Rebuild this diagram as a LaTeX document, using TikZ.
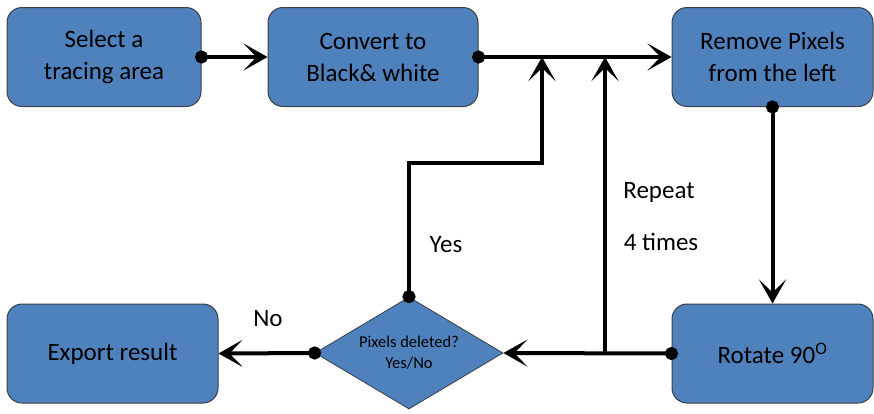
\documentclass[tikz,border=0pt]{standalone}
\usepackage{fontspec}
\setmainfont{Carlito}
\usetikzlibrary{arrows.meta,shapes.geometric}

\definecolor{boxblue}{HTML}{4F81BD}
\definecolor{boxedge}{HTML}{3A3F47}

\tikzset{
  procbox/.style={draw=boxedge, line width=1pt, fill=boxblue, rounded corners=15pt,
    minimum height=99pt, inner sep=0pt, align=center,
    font=\fontsize{25}{32}\selectfont},
  decbox/.style={draw=boxedge, line width=0.8pt, fill=boxblue, diamond,
    shape aspect=1.68, minimum width=188pt, minimum height=112pt, inner sep=0pt,
    align=center, font=\fontsize{16.5}{21}\selectfont},
  flow/.style={line width=4pt,
    -{Stealth[length=24pt,width=27pt,inset=13pt]}},
  dotflow/.style={flow, {Circle[length=13pt]}-{Stealth[length=24pt,width=27pt,inset=13pt]},
    shorten <=-6.5pt},
  lbl/.style={font=\fontsize{25}{30}\selectfont, inner sep=0pt}
}

\begin{document}
\begin{tikzpicture}[x=1pt, y=-1pt]
  \useasboundingbox (0,0) rectangle (874,413);

  % process steps
  \node[procbox, minimum width=194pt] (sel) at (104,57) {Select a\\tracing area};
  \node[procbox, minimum width=210pt] (conv) at (373,57) {Convert to\\Black\& white};
  \node[procbox, minimum width=201pt] (rem) at (772.5,57) {Remove Pixels\\from the left};
  \node[procbox, minimum width=201pt] (rot) at (772.5,353.5) {Rotate 90\textsuperscript{O}};
  \node[procbox, minimum width=211pt] (exp) at (112.5,353.5) {Export result};
  \node[decbox] (dia) at (409,353) {Pixels deleted?\\Yes/No};

  % loop-back junctions on the top line
  \coordinate (yestip) at (542,57);
  \coordinate (rpttip) at (605,57);
  \coordinate (rptbase) at (605,353);

  % connectors
  \draw[dotflow] (sel.east) -- (conv.west);
  \draw[dotflow] (conv.east) -- (rem.west);
  \draw[dotflow] (rem.south) -- (rot.north);
  \draw[dotflow] (rot.west) -- (dia.east);
  \draw[dotflow] (dia.west) -- (exp.east);
  \draw[dotflow] (dia.north) -- (409,163) -| (yestip);
  \draw[flow] (rptbase) -- (rpttip);

  % labels
  \node[lbl] (yes) at (446,245) {Yes};
  \node[lbl] (rpt1) at (659,192) {Repeat};
  \node[lbl] (rpt2) at (661,242) {4 times};
  \node[lbl] (no) at (268,319) {No};
\end{tikzpicture}
\end{document}
